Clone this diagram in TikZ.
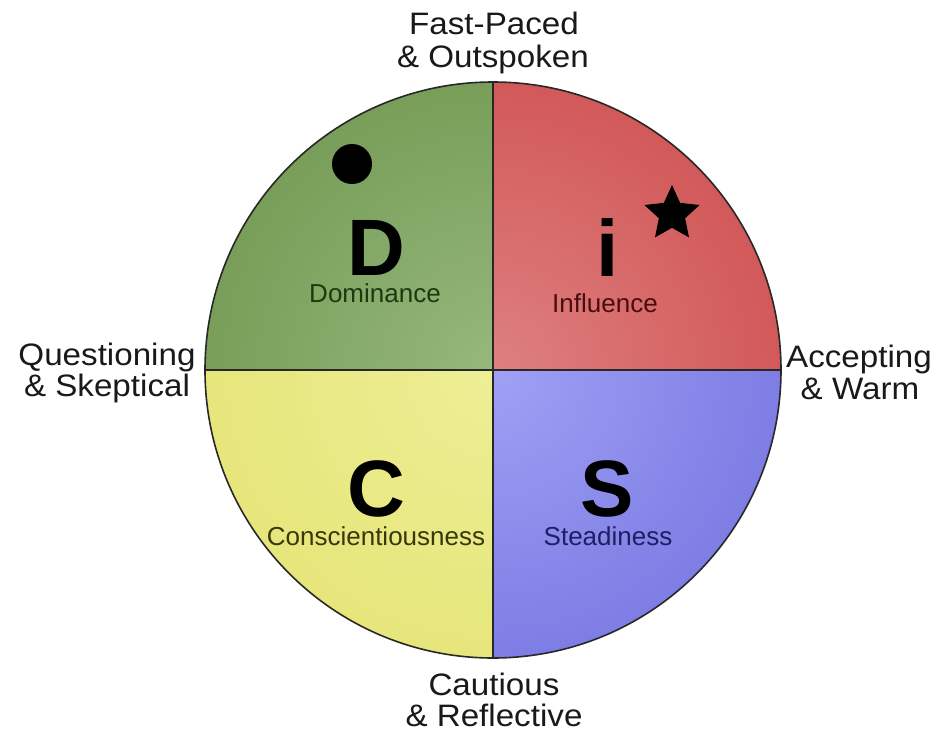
\documentclass[tikz,border=0pt]{standalone}
\usepackage{fontspec}
\setmainfont{Liberation Sans}
\newfontfamily\outerfont{Liberation Sans}[FakeStretch=1.07]
\usetikzlibrary{shapes.geometric}
\definecolor{gOut}{RGB}{90,132,54}
\definecolor{gIn}{RGB}{150,184,124}
\definecolor{rOut}{RGB}{198,50,50}
\definecolor{rIn}{RGB}{222,128,128}
\definecolor{yOut}{RGB}{222,222,96}
\definecolor{yIn}{RGB}{238,238,150}
\definecolor{bOut}{RGB}{90,90,212}
\definecolor{bIn}{RGB}{160,160,245}
\definecolor{lineCol}{RGB}{40,40,40}
\definecolor{txtCol}{RGB}{25,25,25}
\pgfdeclareradialshading{shGreen}{\pgfpoint{0bp}{0bp}}{color(0bp)=(gIn); color(50bp)=(gOut); color(100bp)=(gOut)}
\pgfdeclareradialshading{shRed}{\pgfpoint{0bp}{0bp}}{color(0bp)=(rIn); color(50bp)=(rOut); color(100bp)=(rOut)}
\pgfdeclareradialshading{shYellow}{\pgfpoint{0bp}{0bp}}{color(0bp)=(yIn); color(50bp)=(yOut); color(100bp)=(yOut)}
\pgfdeclareradialshading{shBlue}{\pgfpoint{0bp}{0bp}}{color(0bp)=(bIn); color(50bp)=(bOut); color(100bp)=(bOut)}
\tikzset{
  outerlabel/.style={anchor=base, inner sep=0pt, text=txtCol, font=\outerfont\fontsize{31}{33}\selectfont},
  bigletter/.style={anchor=base, inner sep=0pt, text depth=0pt, text=black, font=\fontsize{80}{80}\selectfont\bfseries},
  sublabel/.style={anchor=base, inner sep=0pt, text height=19pt, font=\fontsize{26}{28}\selectfont},
  divider/.style={draw=lineCol, line width=2.6pt},
  rim/.style={draw=lineCol, line width=1.6pt}
}
\begin{document}
\begin{tikzpicture}[x=1pt,y=-1pt]
\useasboundingbox (0,0) rectangle (938,734);
\fill[white] (0,0) rectangle (938,734);
\coordinate (c) at (493,370);
% quadrants
\begin{scope}
  \clip (c) circle [radius=288pt];
  \begin{scope}
    \clip (c) rectangle (200,70);
    \shade[shading=shGreen] (c) circle [radius=288pt];
  \end{scope}
  \begin{scope}
    \clip (c) rectangle (790,70);
    \shade[shading=shRed] (c) circle [radius=288pt];
  \end{scope}
  \begin{scope}
    \clip (c) rectangle (200,670);
    \shade[shading=shYellow] (c) circle [radius=288pt];
  \end{scope}
  \begin{scope}
    \clip (c) rectangle (790,670);
    \shade[shading=shBlue] (c) circle [radius=288pt];
  \end{scope}
\end{scope}
\coordinate (top) at (493,82);
\coordinate (bot) at (493,658);
\coordinate (lft) at (205,370);
\coordinate (rgt) at (781,370);
\draw[divider] (top) -- (bot);
\draw[divider] (lft) -- (rgt);
\draw[rim] (c) circle [radius=288pt];
% markers
\node[circle, fill=black, minimum size=40pt, inner sep=0pt] (dot) at (352,164) {};
\node[star, star points=5, star point ratio=2.1, fill=black, minimum size=58pt, inner sep=0pt] (star) at (672,214) {};
% big letters
\node[bigletter] (D) at (376,275) {D};
\node[bigletter] (I) at (608,276) {i};
\node[bigletter] (C) at (376,516) {C};
\node[bigletter] (S) at (607,516) {S};
% sublabels
\node[sublabel, text={rgb,255:red,28;green,58;blue,16}] (dom) at (375,302) {Dominance};
\node[sublabel, text={rgb,255:red,72;green,14;blue,14}] (inf) at (605,312) {Influence};
\node[sublabel, text={rgb,255:red,56;green,56;blue,10}] (con) at (376,545) {Conscientiousness};
\node[sublabel, text={rgb,255:red,30;green,30;blue,100}] (ste) at (608,545) {Steadiness};
% outer labels
\node[outerlabel] (t1) at (494,34) {Fast-Paced};
\node[outerlabel] (t2) at (493,67) {\& Outspoken};
\node[outerlabel] (l1) at (107,365) {Questioning};
\node[outerlabel] (l2) at (107,396) {\& Skeptical};
\node[outerlabel] (r1) at (859,367) {Accepting};
\node[outerlabel] (r2) at (860,399) {\& Warm};
\node[outerlabel] (b1) at (494,695) {Cautious};
\node[outerlabel] (b2) at (494,726) {\& Reflective};
\end{tikzpicture}
\end{document}
